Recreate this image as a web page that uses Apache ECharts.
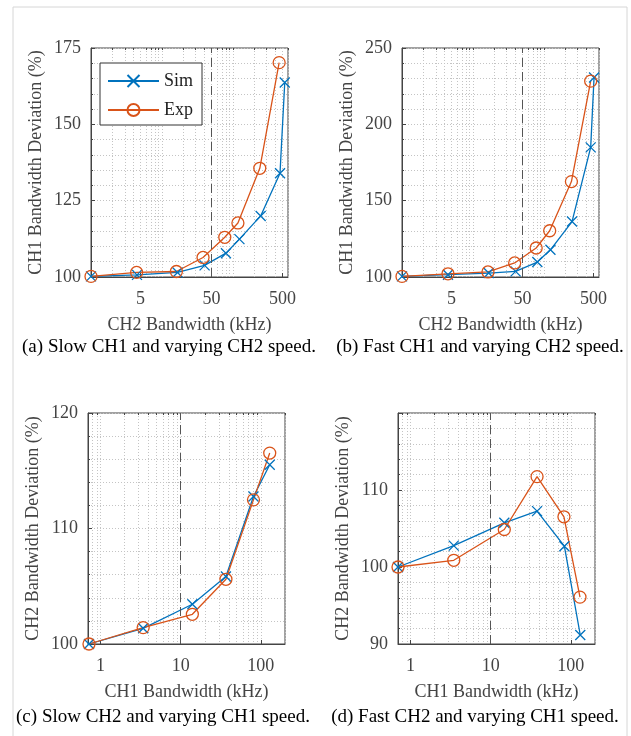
<!DOCTYPE html>
<html>
<head>
<meta charset="utf-8">
<script src="https://cdn.jsdelivr.net/npm/echarts@6/dist/echarts.min.js"></script>
<style>html,body{margin:0;padding:0;background:#fff}#main{width:631px;height:736px}</style>
</head>
<body>
<div id="main"></div>
<script>
// (a) slow CH1, varying CH2
var simA_x = [1, 4.45, 16.6, 40, 80, 124, 247, 463, 540];
var simA_y = [100.2, 100.7, 101.5, 103.8, 107.8, 112.4, 120, 134, 163.7];
var expA_x = [1, 4.4, 16, 38, 77, 118, 240, 450];
var expA_y = [100.2, 101.5, 101.8, 106.4, 113, 117.7, 135.6, 170.2];
// (b) fast CH1, varying CH2
var simB_x = [1, 4.45, 16.7, 40, 81, 124, 250, 458, 511];
var simB_y = [100.4, 101.5, 102.6, 103.7, 109.8, 117.8, 136.3, 184.9, 230.7];
var expB_x = [1, 4.45, 16.3, 38.8, 78, 121, 245, 458];
var expB_y = [100.4, 102.1, 103.3, 109.2, 119, 130.3, 162.5, 228.3];
// (c) slow CH2, varying CH1
var simC_x = [0.72, 3.41, 14, 36.7, 80.9, 129];
var simC_y = [100, 101.36, 103.44, 105.84, 112.77, 115.52];
var expC_x = [0.72, 3.41, 14, 36.7, 80.9, 129];
var expC_y = [100, 101.42, 102.57, 105.6, 112.48, 116.53];
// (d) fast CH2, varying CH1
var simD_x = [0.7, 3.47, 14.8, 37.9, 83, 131];
var simD_y = [100, 102.78, 105.74, 107.26, 102.7, 91.17];
var expD_x = [0.7, 3.47, 14.8, 37.9, 82, 130];
var expD_y = [100, 100.87, 104.87, 111.74, 106.52, 96.09];

// tick labels
var xTicksCH2 = [5, 50, 500];
var xTicksCH1 = [1, 10, 100];

var captions = [
  '(a) Slow CH1 and varying CH2 speed.',
  '(b) Fast CH1 and varying CH2 speed.',
  '(c) Slow CH2 and varying CH1 speed.',
  '(d) Fast CH2 and varying CH1 speed.'
];

var BLUE = '#0072BD', ORANGE = '#D95319';
var FONT = '"Liberation Serif", "Times New Roman", serif';
var AX = '#444';
var GRIDC = '#c4c4c4';

function pairs(xs, ys) {
  return xs.map(function (x, i) { return [x, ys[i]]; });
}

// minor log ticks between lo and hi (the 2..9 multiples)
function logMinor(lo, hi, major) {
  var out = [];
  for (var e = -1; e < 3; e++) {
    for (var m = 1; m < 10; m++) {
      var v = +(m * Math.pow(10, e)).toPrecision(3);
      if (v >= lo && v <= hi && major.indexOf(v) < 0) out.push(v);
    }
  }
  return out;
}

var panels = [
  { box: [91, 48, 197, 229], xr: [1, 600], xt: xTicksCH2, yr: [100, 175, 25], xline: 50,
    xname: 'CH2 Bandwidth (kHz)', yname: 'CH1 Bandwidth Deviation (%)',
    sim: pairs(simA_x, simA_y), exp: pairs(expA_x, expA_y), cap: [169, 347] },
  { box: [402, 48, 197, 229], xr: [1, 600], xt: xTicksCH2, yr: [100, 250, 50], xline: 50,
    xname: 'CH2 Bandwidth (kHz)', yname: 'CH1 Bandwidth Deviation (%)',
    sim: pairs(simB_x, simB_y), exp: pairs(expB_x, expB_y), cap: [480, 347] },
  { box: [88, 413, 197, 231], xr: [0.7, 200], xt: xTicksCH1, yr: [100, 120, 10], xline: 10,
    xname: 'CH1 Bandwidth (kHz)', yname: 'CH2 Bandwidth Deviation (%)',
    sim: pairs(simC_x, simC_y), exp: pairs(expC_x, expC_y), cap: [163, 717] },
  { box: [398, 413, 197, 231], xr: [0.7, 200], xt: xTicksCH1, yr: [90, 120, 10], xline: 10, hideMax: true,
    xname: 'CH1 Bandwidth (kHz)', yname: 'CH2 Bandwidth Deviation (%)',
    sim: pairs(simD_x, simD_y), exp: pairs(expD_x, expD_y), cap: [475, 717] }
];

var grid = [], xAxis = [], yAxis = [], series = [];
var graphic = [{
  type: 'rect', shape: { x: 13, y: 7, width: 614, height: 760 },
  style: { fill: 'none', stroke: '#d6d6d6', lineWidth: 1 }, silent: true
}];

var dotted = { show: true, lineStyle: { color: GRIDC, type: [1, 2], width: 1 } };

panels.forEach(function (p, i) {
  grid.push({ left: p.box[0], top: p.box[1], width: p.box[2], height: p.box[3],
    show: true, borderColor: AX, borderWidth: 1 });
  // main x axis: labels + major ticks
  xAxis.push({
    type: 'log', gridIndex: i, min: p.xr[0], max: p.xr[1],
    axisLine: { show: true, lineStyle: { color: AX } },
    axisTick: { show: true, inside: true, length: 4, customValues: p.xt, lineStyle: { color: AX } },
    axisLabel: { customValues: p.xt, color: AX, fontSize: 18, fontFamily: FONT, margin: 13 },
    splitLine: dotted,
    name: p.xname, nameLocation: 'middle', nameGap: 39,
    nameTextStyle: { color: AX, fontSize: 18, fontFamily: FONT }
  });
  // minor x axis: minor ticks + minor grid
  var minor = logMinor(p.xr[0], p.xr[1], p.xt);
  xAxis.push({
    type: 'log', gridIndex: i, min: p.xr[0], max: p.xr[1],
    axisLine: { show: false },
    axisTick: { show: true, inside: true, length: 2, customValues: minor, lineStyle: { color: AX } },
    axisLabel: { show: false },
    splitLine: dotted
  });
  yAxis.push({
    type: 'value', gridIndex: i, min: p.yr[0], max: p.yr[1], interval: p.yr[2],
    axisLine: { show: true, lineStyle: { color: AX } },
    axisTick: { show: true, inside: true, length: 4, lineStyle: { color: AX } },
    minorTick: { show: true, splitNumber: 5, length: 2, lineStyle: { color: AX } },
    axisLabel: { color: AX, fontSize: 18, fontFamily: FONT, margin: 10, showMaxLabel: !p.hideMax },
    splitLine: dotted,
    minorSplitLine: dotted,
    name: p.yname, nameLocation: 'middle', nameGap: 46,
    nameTextStyle: { color: AX, fontSize: 18, fontFamily: FONT }
  });
  series.push({
    name: 'Sim', type: 'line', xAxisIndex: 2 * i, yAxisIndex: i, data: p.sim,
    symbol: 'path://M0,0L10,10M10,0L0,10', symbolSize: 10, clip: false,
    lineStyle: { color: BLUE, width: 1.3 },
    itemStyle: { color: BLUE, borderColor: BLUE, borderWidth: 1.3 },
    markLine: {
      silent: true, symbol: ['none', 'none'], label: { show: false },
      lineStyle: { color: '#555', type: [9, 5], width: 1 },
      data: [{ xAxis: p.xline }]
    }
  });
  series.push({
    name: 'Exp', type: 'line', xAxisIndex: 2 * i, yAxisIndex: i, data: p.exp,
    symbol: 'circle', symbolSize: 12, clip: false,
    lineStyle: { color: ORANGE, width: 1.3 },
    itemStyle: { color: 'rgba(0,0,0,0)', borderColor: ORANGE, borderWidth: 1.3 }
  });
  graphic.push({
    type: 'text', x: p.cap[0], y: p.cap[1], silent: true,
    style: { text: captions[i], fill: '#000', font: '19px ' + FONT, align: 'center', verticalAlign: 'middle' }
  });
});

var chart = echarts.init(document.getElementById('main'), null, { width: 631, height: 736 });
chart.setOption({
  animation: false,
  backgroundColor: '#fff',
  legend: {
    data: ['Sim', 'Exp'], orient: 'vertical', left: 100, top: 63,
    padding: [9, 9, 6, 7], itemWidth: 51, itemHeight: 15, itemGap: 11,
    borderColor: '#333', borderWidth: 1, backgroundColor: '#fff',
    textStyle: { fontSize: 18, fontFamily: FONT, color: '#222' }
  },
  grid: grid,
  xAxis: xAxis,
  yAxis: yAxis,
  series: series,
  graphic: graphic
});
</script>
</body>
</html>
